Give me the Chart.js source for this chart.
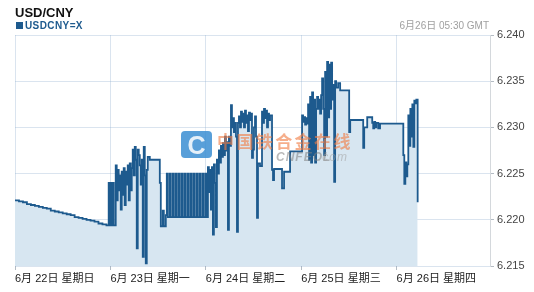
<!DOCTYPE html>
<html>
<head>
<meta charset="utf-8">
<script src="https://cdn.jsdelivr.net/npm/chart.js@4/dist/chart.umd.min.js"></script>
<style>
  html, body { margin: 0; padding: 0; background: #fff; }
  #wrap { position: relative; width: 534px; height: 292px; }
</style>
</head>
<body>
<div id="wrap"><canvas id="c" width="534" height="292"></canvas></div>
<script>
// USD/CNY intraday quotes, hours counted from 6月22日 00:00 GMT
const dayLabels = ['6月 22日 星期日', '6月 23日 星期一', '6月 24日 星期二', '6月 25日 星期三', '6月 26日 星期四'];
const yTicks = [6.215, 6.220, 6.225, 6.230, 6.235, 6.240];

const sunHours = [0, 1, 2, 3, 4, 5, 6, 7, 8, 9, 10, 11, 12, 13, 14, 15, 16, 17, 18, 19, 20, 21, 22, 23];
const sunRates = [6.2221, 6.2220, 6.2219, 6.2217, 6.2216, 6.2215, 6.2214, 6.2213, 6.2212, 6.2210, 6.2209, 6.2208,
                  6.2207, 6.2206, 6.2205, 6.2203, 6.2202, 6.2201, 6.2200, 6.2199, 6.2198, 6.2196, 6.2195, 6.2194];

const monHours = [23.57, 23.82, 24.08, 24.33, 24.58, 24.83, 25.34, 25.59, 25.84, 26.09, 26.34, 26.60, 26.85, 27.10,
                  27.35, 27.60, 27.86, 28.11, 28.36, 28.61, 28.87, 29.12, 29.37, 29.62, 29.87, 30.13, 30.38, 30.63,
                  30.88, 31.13, 31.39, 31.64, 31.89, 32.14, 32.39, 32.65, 32.90, 33.15, 33.40, 33.91, 36.43, 36.68,
                  37.18, 37.44, 37.94, 38.19, 38.45, 38.95, 39.20, 39.71, 39.96, 40.46, 40.72, 41.22, 41.47, 41.97,
                  42.23, 42.73, 42.98, 43.49, 43.74, 44.24, 44.50, 45.00, 45.25, 45.76, 46.01, 46.51, 46.76, 47.27,
                  47.52];
const monRates = [6.2240, 6.2194, 6.2240, 6.2194, 6.2240, 6.2194, 6.2259, 6.2221, 6.2254, 6.2232, 6.2248, 6.2211,
                  6.2252, 6.2227, 6.2256, 6.2216, 6.2252, 6.2238, 6.2259, 6.2221, 6.2261, 6.2232, 6.2256, 6.2276,
                  6.2248, 6.2279, 6.2265, 6.2169, 6.2276, 6.2270, 6.2259, 6.2238, 6.2265, 6.2160, 6.2279, 6.2248,
                  6.2153, 6.2254, 6.2268, 6.2265, 6.2240, 6.2193, 6.2210, 6.2193, 6.2205, 6.2250, 6.2203, 6.2250,
                  6.2203, 6.2250, 6.2203, 6.2250, 6.2203, 6.2250, 6.2203, 6.2250, 6.2203, 6.2250, 6.2203, 6.2250,
                  6.2203, 6.2250, 6.2203, 6.2250, 6.2203, 6.2250, 6.2203, 6.2250, 6.2203, 6.2250, 6.2203];

const tueHours = [48.02, 48.28, 48.53, 48.78, 49.03, 49.29, 49.54, 49.79, 50.04, 50.29, 50.55, 50.80, 51.05, 51.30,
                  51.56, 51.81, 52.06, 52.31, 52.56, 52.82, 53.07, 53.32, 53.57, 53.82, 54.08, 54.33, 54.58, 54.83,
                  55.08, 55.34, 55.59, 55.84, 56.09, 56.34, 56.60, 56.85, 57.10, 57.35, 57.60, 57.86, 58.11, 58.36,
                  58.61, 58.86, 59.12, 59.37, 59.62, 59.87, 60.12, 60.38, 60.63, 60.88, 61.13, 61.64, 62.14, 62.39,
                  62.64, 62.90, 63.15, 63.40, 63.65, 63.90, 64.16, 64.66, 64.91, 65.17, 67.18, 67.69, 69.20];
const tueRates = [6.2250, 6.2203, 6.2257, 6.2230, 6.2254, 6.2211, 6.2257, 6.2184, 6.2260, 6.2240, 6.2192, 6.2265,
                  6.2250, 6.2275, 6.2262, 6.2280, 6.2268, 6.2283, 6.2270, 6.2290, 6.2275, 6.2284, 6.2189, 6.2290,
                  6.2280, 6.2324, 6.2300, 6.2310, 6.2295, 6.2305, 6.2290, 6.2187, 6.2305, 6.2312, 6.2300, 6.2317,
                  6.2306, 6.2315, 6.2300, 6.2318, 6.2305, 6.2313, 6.2296, 6.2316, 6.2308, 6.2315, 6.2267, 6.2276,
                  6.2300, 6.2312, 6.2290, 6.2202, 6.2261, 6.2258, 6.2317, 6.2305, 6.2320, 6.2310, 6.2318, 6.2300,
                  6.2315, 6.2308, 6.2313, 6.2254, 6.2243, 6.2255, 6.2234, 6.2252, 6.2274];

const wedHours = [72.22, 72.47, 72.73, 72.98, 73.23, 73.48, 73.73, 73.99, 74.24, 74.49, 74.74, 74.99, 75.25, 75.50,
                  75.75, 76.00, 76.25, 76.51, 76.76, 77.01, 77.26, 77.52, 77.77, 78.02, 78.27, 78.52, 78.78, 79.03,
                  79.28, 79.53, 79.78, 80.04, 80.29, 80.54, 80.79, 81.30, 81.80, 84.07, 84.33, 87.60, 87.85, 88.61,
                  89.87, 90.12, 90.37, 90.62, 90.88, 91.38, 91.84];
const wedRates = [6.2313, 6.2306, 6.2311, 6.2303, 6.2310, 6.2304, 6.2325, 6.2265, 6.2333, 6.2262, 6.2338, 6.2270,
                  6.2330, 6.2262, 6.2320, 6.2333, 6.2320, 6.2330, 6.2315, 6.2335, 6.2353, 6.2320, 6.2270, 6.2360,
                  6.2290, 6.2371, 6.2311, 6.2368, 6.2320, 6.2370, 6.2330, 6.2346, 6.2241, 6.2350, 6.2343, 6.2348,
                  6.2340, 6.2295, 6.2308, 6.2278, 6.2300, 6.2311, 6.2305, 6.2299, 6.2306, 6.2300, 6.2305, 6.2299,
                  6.2304];

const thuHours = [97.69, 97.94, 98.20, 98.45, 98.70, 98.95, 99.21, 99.46, 99.71, 99.96, 100.21, 100.46, 100.72,
                  100.97, 101.30];
const thuRates = [6.2270, 6.2239, 6.2262, 6.2247, 6.2260, 6.2313, 6.2280, 6.2320, 6.2290, 6.2325, 6.2279, 6.2329,
                  6.2326, 6.2330, 6.2219];

const hours = [].concat(sunHours, monHours, tueHours, wedHours, thuHours);
const rates = [].concat(sunRates, monRates, tueRates, wedRates, thuRates);
const points = hours.map((h, i) => ({ x: h, y: rates[i] }));

const LINE = '#1d5a8e';
const FONT = "'Liberation Sans', Arial, 'Noto Sans CJK SC', sans-serif";
const GRID = 'rgba(140,172,205,0.32)';

// Header texts and the faint site mark laid over the plot
const decorations = {
  id: 'decorations',
  afterDraw(chart) {
    const ctx = chart.ctx;
    ctx.save();
    ctx.textBaseline = 'alphabetic';
    ctx.fillStyle = '#111';
    ctx.font = 'bold 13px ' + FONT;
    ctx.textAlign = 'left';
    ctx.fillText('USD/CNY', 15, 17);

    ctx.fillStyle = LINE;
    ctx.fillRect(16, 22, 7, 7);
    ctx.font = 'bold 10px ' + FONT;
    ctx.letterSpacing = '0.4px';
    ctx.fillText('USDCNY=X', 25, 29);
    ctx.letterSpacing = '0px';

    ctx.fillStyle = '#a0a0a0';
    ctx.font = '10px ' + FONT;
    ctx.textAlign = 'right';
    ctx.fillText('6月26日 05:30 GMT', 489, 29);

    // site mark
    ctx.globalAlpha = 0.85;
    ctx.fillStyle = '#3b8ed2';
    ctx.beginPath();
    ctx.roundRect(181, 131, 31, 27, 4);
    ctx.fill();
    ctx.fillStyle = '#ffffff';
    ctx.font = 'bold 25px ' + FONT;
    ctx.textAlign = 'center';
    ctx.fillText('C', 196.5, 154);

    ctx.globalAlpha = 0.62;
    ctx.fillStyle = '#f07c44';
    ctx.font = 'bold 17px "Noto Sans CJK SC", sans-serif';
    ctx.textAlign = 'left';
    const mark = '中国铁合金在线';
    for (let i = 0; i < mark.length; i++) ctx.fillText(mark[i], 217 + i * 19.4, 148);

    ctx.globalAlpha = 0.55;
    ctx.fillStyle = '#808080';
    ctx.font = 'italic bold 12px ' + FONT;
    ctx.letterSpacing = '1px';
    ctx.fillText('CNFEOL', 276, 161);
    ctx.font = 'italic 12px ' + FONT;
    ctx.fillStyle = '#a0a0a0';
    ctx.fillText('.com', 318, 161);
    ctx.restore();
  }
};

new Chart(document.getElementById('c'), {
  type: 'line',
  data: {
    datasets: [{
      label: 'USDCNY=X',
      data: points,
      borderColor: LINE,
      borderWidth: 1.8,
      backgroundColor: '#d7e6f1',
      fill: 'start',
      stepped: 'before',
      pointRadius: 0,
      tension: 0
    }]
  },
  options: {
    responsive: false,
    animation: false,
    devicePixelRatio: 1,
    layout: { padding: { left: 15, right: 0, top: 35, bottom: 0 } },
    plugins: { legend: { display: false }, tooltip: { enabled: false }, title: { display: false } },
    scales: {
      x: {
        type: 'linear',
        min: 0,
        max: 119.5,
        z: 1,
        afterBuildTicks: s => { s.ticks = dayLabels.map((_, i) => ({ value: i * 24 })); },
        afterFit: s => { s.height = 26; },
        ticks: {
          align: 'start',
          autoSkip: false,
          maxRotation: 0,
          padding: 2,
          color: '#222',
          font: { family: FONT, size: 11 },
          callback: (v, i) => dayLabels[i]
        },
        grid: { color: GRID, tickLength: 4, tickColor: '#b4bcc4' },
        border: { display: false }
      },
      y: {
        position: 'right',
        min: 6.215,
        max: 6.240,
        z: 1,
        afterBuildTicks: s => { s.ticks = yTicks.map(v => ({ value: v })); },
        afterFit: s => { s.width = 44; },
        ticks: {
          padding: 3,
          color: '#444',
          font: { family: FONT, size: 11 },
          callback: v => Number(v).toFixed(3)
        },
        grid: { color: GRID, tickLength: 4, tickColor: '#b4bcc4' },
        border: { color: '#d4d8dc' }
      }
    }
  },
  plugins: [decorations]
});
</script>
</body>
</html>
